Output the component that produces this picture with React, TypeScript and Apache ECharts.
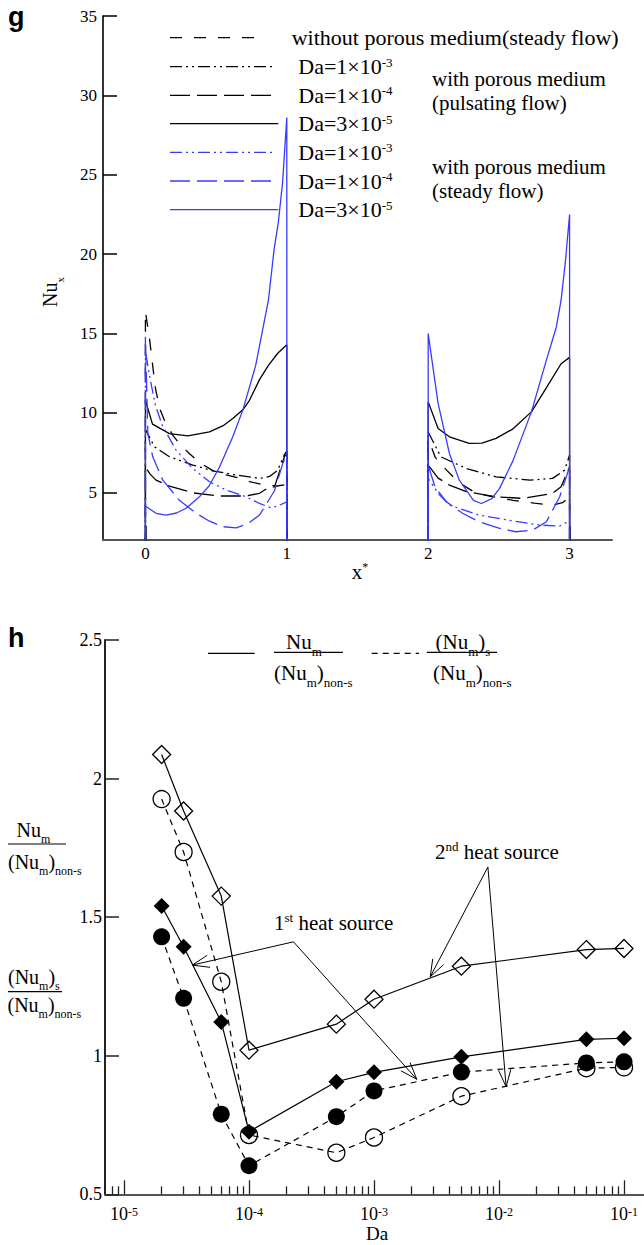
import React, { useEffect, useRef } from "react";
import * as echarts from "echarts";

const SERIF = "'Liberation Serif', 'Times New Roman', serif";
const SANS = "'Liberation Sans', Arial, sans-serif";
const BLUE = "#3a3aff";
const BLACK = "#000000";

// ---------------- panel g ----------------
const G_X_TICKS = [0, 1, 2, 3];
const G_Y_TICKS = [5, 10, 15, 20, 25, 30, 35];
const G_X_MIN = -0.3;
const G_X_MAX = 3.3;
const G_Y_MIN = 2;
const G_Y_MAX = 35;
const WALL = 0; // curves drop to zero outside the heat sources

const NOPOR_1 = [[0, 16.4], [0.03, 14.6], [0.07, 11.6], [0.1, 10.3], [0.134, 9.55], [0.193, 8.6], [0.24, 8.08], [0.31, 7.45], [0.38, 6.9], [0.48, 6.35], [0.57, 6.1], [0.665, 5.9], [0.736, 5.67], [0.85, 5.45], [0.93, 5.4], [1.0, 5.5]];
const NOPOR_2 = [[2, 8.4], [2.05, 7.2], [2.13, 6.4], [2.22, 5.6], [2.34, 4.94], [2.47, 4.7], [2.6, 4.5], [2.75, 4.32], [2.88, 4.2], [2.95, 4.35], [3.0, 4.72]];

const PUL3_1 = [[0, 8.96], [0.064, 7.87], [0.17, 7.24], [0.335, 6.72], [0.476, 6.36], [0.642, 6.09], [0.807, 5.88], [0.878, 6.0], [0.936, 6.4], [0.984, 7.4], [1.0, 7.6]];
const PUL3_2 = [[2, 8.8], [2.09, 7.24], [2.27, 6.5], [2.48, 5.98], [2.72, 5.77], [2.88, 5.88], [2.965, 6.4], [3.0, 7.35]];

const PUL4_1 = [[0, 6.6], [0.033, 6.15], [0.075, 5.77], [0.17, 5.4], [0.335, 4.97], [0.524, 4.77], [0.713, 4.77], [0.807, 4.94], [0.87, 5.3], [0.913, 5.34], [0.984, 7.27], [1.0, 7.4]];
const PUL4_2 = [[2, 6.72], [2.07, 5.9], [2.15, 5.46], [2.27, 5.04], [2.48, 4.72], [2.67, 4.62], [2.88, 4.94], [2.94, 5.35], [3.0, 6.6]];

const PUL35_1 = [[0, 10.8], [0.05, 9.3], [0.17, 8.7], [0.3, 8.56], [0.453, 8.81], [0.55, 9.2], [0.618, 9.65], [0.689, 10.2], [0.736, 10.8], [0.807, 12.1], [0.87, 13.0], [0.936, 13.76], [1.0, 14.3]];
const PUL35_2 = [[2, 10.7], [2.07, 9.02], [2.15, 8.5], [2.29, 8.08], [2.38, 8.1], [2.48, 8.4], [2.6, 9.0], [2.73, 10.07], [2.83, 11.5], [2.94, 13.1], [3.0, 13.5]];

const STE3_1 = [[0, 13.9], [0.03, 12.3], [0.07, 10.5], [0.12, 9.2], [0.217, 7.66], [0.335, 6.5], [0.453, 5.67], [0.571, 5.14], [0.713, 4.72], [0.807, 4.3], [0.89, 4.02], [0.95, 4.2], [1.0, 4.4]];
const STE3_2 = [[2, 5.88], [2.07, 4.94], [2.15, 4.2], [2.36, 3.57], [2.6, 3.2], [2.79, 2.94], [2.93, 2.88], [3.0, 3.2]];

const STE4_1 = [[0, 14.8], [0.017, 8.7], [0.052, 7.24], [0.123, 5.77], [0.24, 4.5], [0.36, 3.68], [0.45, 3.2], [0.547, 2.84], [0.642, 2.77], [0.72, 3.0], [0.807, 3.57], [0.913, 5.1], [0.97, 6.78], [1.0, 7.4]];
const STE4_2 = [[2, 6.7], [2.05, 5.3], [2.13, 4.4], [2.24, 3.7], [2.36, 3.15], [2.5, 2.75], [2.62, 2.52], [2.74, 2.63], [2.836, 3.15], [2.93, 4.72], [3.0, 6.6]];

const STE35_1 = [[0, 4.14], [0.075, 3.68], [0.146, 3.57], [0.22, 3.7], [0.288, 4.0], [0.382, 4.72], [0.45, 5.4], [0.524, 6.6], [0.618, 8.5], [0.689, 10.18], [0.78, 13.0], [0.87, 17.1], [0.91, 20.3], [0.94, 22.0], [0.97, 24.5], [1.0, 28.6]];
const STE35_2 = [[2, 15.0], [2.07, 10.6], [2.15, 7.45], [2.22, 5.77], [2.32, 4.5], [2.376, 4.3], [2.45, 4.6], [2.505, 5.25], [2.6, 7.0], [2.73, 10.07], [2.835, 13.3], [2.906, 15.4], [2.94, 17.1], [2.97, 19.5], [3.0, 22.5]];

const DASH_SHORT = [12, 12];
const DASH_DDOT = [12, 4, 2, 4, 2, 4];
const DASH_LONG = [20, 7];

const G_CURVES = [
  { label: "{a|without porous medium(steady flow)}", color: BLACK, dash: DASH_SHORT, segs: [NOPOR_1, NOPOR_2] },
  { label: "{a|Da=1×10}{s|-3}", color: BLACK, dash: DASH_DDOT, segs: [PUL3_1, PUL3_2] },
  { label: "{a|Da=1×10}{s|-4}", color: BLACK, dash: DASH_LONG, segs: [PUL4_1, PUL4_2] },
  { label: "{a|Da=3×10}{s|-5}", color: BLACK, dash: null, segs: [PUL35_1, PUL35_2] },
  { label: "{a|Da=1×10}{s|-3}", color: BLUE, dash: DASH_DDOT, segs: [STE3_1, STE3_2] },
  { label: "{a|Da=1×10}{s|-4}", color: BLUE, dash: DASH_LONG, segs: [STE4_1, STE4_2] },
  { label: "{a|Da=3×10}{s|-5}", color: BLUE, dash: null, segs: [STE35_1, STE35_2] },
];

// legend layout (pixels)
const LEG_ROW_Y = [37.7, 66.7, 95.3, 123.7, 152.3, 181, 209.7];
const LEG_LINE_X0 = 170;
const LEG_LINE_X1 = [265, 275, 271.7, 278.3, 275, 271.7, 278.3];
const LEG_TEXT_X = [291.7, 298.3, 298.3, 298.3, 298.3, 298.3, 298.3];
const GROUP_LABELS = [
  { text: "with porous medium", x: 432, y: 78.5 },
  { text: "(pulsating flow)", x: 432, y: 102.5 },
  { text: "with porous medium", x: 432, y: 167 },
  { text: "(steady flow)", x: 432, y: 191 },
];

// ---------------- panel h ----------------
const H_DA = [2e-5, 3e-5, 6e-5, 1e-4, 5e-4, 1e-3, 5e-3, 5e-2, 1e-1];
const H_OPEN_DIAMOND = [2.087, 1.883, 1.576, 1.02, 1.114, 1.204, 1.323, 1.383, 1.387];
const H_FILLED_DIAMOND = [1.54, 1.393, 1.122, 0.726, 0.906, 0.94, 0.996, 1.059, 1.063];
const H_OPEN_CIRCLE = [1.926, 1.735, 1.267, 0.714, 0.65, 0.705, 0.854, 0.955, 0.958];
const H_FILLED_CIRCLE = [1.429, 1.207, 0.789, 0.603, 0.78, 0.873, 0.941, 0.974, 0.978];
const H_X_MIN = 7.05e-6;
const H_X_MAX = 0.1445;
const H_MAJOR = [1e-5, 1e-4, 1e-3, 1e-2, 1e-1];
const H_DECADES = [1e-6, 1e-5, 1e-4, 1e-3, 1e-2, 1e-1];
const H_MINOR_MULT = [2, 3, 4, 5, 6, 7, 8, 9];
const H_MINOR = H_DECADES.flatMap((d) => H_MINOR_MULT.map((m) => m * d)).filter((v) => v >= H_X_MIN && v <= H_X_MAX);

// annotation arrows in data coordinates (Da, ratio)
const ARROWS = [
  { apex: [2.27e-4, 1.411], tips: [[3.51e-5, 1.327], [2.2e-3, 0.915]] },
  { apex: [8.15e-3, 1.681], tips: [[2.82e-3, 1.285], [1.14e-2, 0.888]] },
];

const supRich = (size: number, sup: number, lh: number) => ({
  a: { fontSize: size, fontFamily: SERIF, lineHeight: lh, fill: BLACK },
  s: { fontSize: sup, fontFamily: SERIF, lineHeight: sup, verticalAlign: "top", fill: BLACK },
});
const subRich = (size: number, sub: number, lh: number) => ({
  a: { fontSize: size, fontFamily: SERIF, lineHeight: lh, fill: BLACK },
  b: { fontSize: sub, fontFamily: SERIF, lineHeight: sub, verticalAlign: "bottom", fill: BLACK },
});

function txt(x: number, y: number, text: string, rich: any, align = "left", extra: any = {}) {
  return {
    type: "text",
    x,
    y,
    silent: true,
    z: 100,
    ...extra,
    style: {
      text,
      x: 0,
      y: 0,
      rich,
      fill: BLACK,
      fontFamily: SERIF,
      fontSize: 20,
      align,
      verticalAlign: "middle",
      textAlign: align,
      textVerticalAlign: "middle",
    },
  };
}

function seg(x1: number, y1: number, x2: number, y2: number, dash: any = null, width = 1.3, color = BLACK) {
  return {
    type: "line",
    silent: true,
    z: 100,
    shape: { x1, y1, x2, y2 },
    style: { stroke: color, lineWidth: width, lineDash: dash },
  };
}

function buildOption() {
  const gSeries: any[] = [];
  G_CURVES.forEach((c) => {
    c.segs.forEach((s) => {
      const data = [[s[0][0], WALL], ...s, [s[s.length - 1][0], WALL]];
      gSeries.push({
        type: "line",
        xAxisIndex: 0,
        yAxisIndex: 0,
        data,
        symbol: "none",
        showSymbol: false,
        silent: true,
        clip: true,
        lineStyle: { color: c.color, width: 1.3, type: c.dash ? c.dash : "solid" },
        emphasis: { disabled: true },
      });
    });
  });

  const hLine = (vals: number[], symbol: string, size: any, filled: boolean, dashed: boolean) => ({
    type: "line",
    xAxisIndex: 1,
    yAxisIndex: 1,
    data: H_DA.map((d, i) => [d, vals[i]]),
    symbol,
    symbolSize: size,
    showSymbol: true,
    silent: true,
    lineStyle: { color: BLACK, width: 1.2, type: dashed ? [6, 5] : "solid" },
    itemStyle: {
      color: filled ? BLACK : "rgba(255,255,255,0)",
      borderColor: BLACK,
      borderWidth: filled ? 0 : 1.3,
    },
    emphasis: { disabled: true },
  });

  return {
    animation: false,
    backgroundColor: "#ffffff",
    grid: [
      { left: 103, top: 16, width: 509, height: 524 },
      { left: 105, top: 640, width: 539, height: 554.3 },
    ],
    xAxis: [
      {
        type: "value",
        gridIndex: 0,
        min: G_X_MIN,
        max: G_X_MAX,
        position: "bottom",
        axisLine: { show: true, onZero: false, lineStyle: { color: "#555", width: 2 } },
        axisTick: { show: true, inside: true, length: 14, customValues: G_X_TICKS, lineStyle: { color: "#111", width: 1.5 } },
        axisLabel: { show: true, customValues: G_X_TICKS, fontSize: 17, fontFamily: SERIF, color: BLACK, margin: 5 },
        splitLine: { show: false },
      },
      {
        type: "log",
        logBase: 10,
        gridIndex: 1,
        min: H_X_MIN,
        max: H_X_MAX,
        position: "bottom",
        axisLine: { show: true, onZero: false, lineStyle: { color: "#555", width: 2 } },
        axisTick: { show: true, inside: true, length: 14, customValues: H_MAJOR, lineStyle: { color: "#222", width: 1.3 } },
        axisLabel: {
          show: true,
          customValues: H_MAJOR,
          margin: 12,
          formatter: (v: number) => `{b|10}{s|${Math.round(Math.log10(v))}}`,
          rich: {
            b: { fontSize: 18, fontFamily: SERIF, color: BLACK, lineHeight: 16 },
            s: { fontSize: 12, fontFamily: SERIF, color: BLACK, lineHeight: 6, verticalAlign: "top" },
          },
        },
        splitLine: { show: false },
        minorTick: { show: false },
      },
      {
        type: "log",
        logBase: 10,
        gridIndex: 1,
        min: H_X_MIN,
        max: H_X_MAX,
        position: "bottom",
        offset: 0,
        axisLine: { show: false, onZero: false },
        axisTick: { show: true, inside: true, length: 8, customValues: H_MINOR, lineStyle: { color: "#222", width: 1.3 } },
        axisLabel: { show: false },
        splitLine: { show: false },
      },
    ],
    yAxis: [
      {
        type: "value",
        gridIndex: 0,
        min: G_Y_MIN,
        max: G_Y_MAX,
        axisLine: { show: true, onZero: false, lineStyle: { color: BLACK, width: 1.6 } },
        axisTick: { show: true, inside: true, length: 14, customValues: G_Y_TICKS, lineStyle: { color: BLACK, width: 1.5 } },
        axisLabel: { show: true, customValues: G_Y_TICKS, fontSize: 17, fontFamily: SERIF, color: BLACK, margin: 6 },
        splitLine: { show: false },
      },
      {
        type: "value",
        gridIndex: 1,
        min: 0.5,
        max: 2.5,
        interval: 0.5,
        axisLine: { show: true, onZero: false, lineStyle: { color: "#222", width: 2 } },
        axisTick: { show: true, inside: true, length: 14, lineStyle: { color: "#222", width: 1.5 } },
        axisLabel: { show: true, fontSize: 18, fontFamily: SERIF, color: BLACK, margin: 3, formatter: (v: number) => String(v) },
        splitLine: { show: false },
      },
    ],
    series: [
      ...gSeries,
      hLine(H_OPEN_CIRCLE, "circle", 17, false, true),
      hLine(H_FILLED_CIRCLE, "circle", 17, true, true),
      hLine(H_OPEN_DIAMOND, "diamond", 18, false, false),
      hLine(H_FILLED_DIAMOND, "diamond", 16, true, false),
    ],
  };
}

function arrowElems(from: number[], tip: number[]) {
  const dx = tip[0] - from[0];
  const dy = tip[1] - from[1];
  const len = Math.hypot(dx, dy) || 1;
  const ux = dx / len;
  const uy = dy / len;
  const L = 18;
  const th = (20 * Math.PI) / 180;
  const rot = (a: number) => [ux * Math.cos(a) - uy * Math.sin(a), ux * Math.sin(a) + uy * Math.cos(a)];
  const r1 = rot(th);
  const r2 = rot(-th);
  return [
    seg(from[0], from[1], tip[0], tip[1], null, 1),
    {
      type: "polyline",
      silent: true,
      z: 100,
      shape: { points: [[tip[0] - L * r1[0], tip[1] - L * r1[1]], tip, [tip[0] - L * r2[0], tip[1] - L * r2[1]]] },
      style: { stroke: BLACK, lineWidth: 1, fill: null },
    },
  ];
}

function buildGraphics(chart: any) {
  const els: any[] = [];
  // panel letters
  els.push({ type: "text", x: 8, y: 16.5, silent: true, style: { text: "g", fontSize: 27, fontWeight: "bold", fontFamily: SANS, fill: BLACK, align: "left", verticalAlign: "middle", textAlign: "left", textVerticalAlign: "middle" } });
  els.push({ type: "text", x: 8, y: 637.5, silent: true, style: { text: "h", fontSize: 27, fontWeight: "bold", fontFamily: SANS, fill: BLACK, align: "left", verticalAlign: "middle", textAlign: "left", textVerticalAlign: "middle" } });

  // panel g legend
  G_CURVES.forEach((c, i) => {
    els.push(seg(LEG_LINE_X0, LEG_ROW_Y[i], LEG_LINE_X1[i], LEG_ROW_Y[i], c.dash, 1.3, c.color));
    els.push(txt(LEG_TEXT_X[i], LEG_ROW_Y[i], c.label, supRich(22, 13, 22)));
  });
  GROUP_LABELS.forEach((g) => els.push(txt(g.x, g.y, `{a|${g.text}}`, supRich(21, 13, 19))));

  // panel g axis names
  els.push(txt(50, 292, "{a|Nu}{b|x}", subRich(20, 11, 30), "center", { rotation: Math.PI / 2 }));
  els.push(txt(360, 572, "{a|x}{s|*}", supRich(21, 12, 22), "center"));

  // panel h legend
  els.push(seg(208, 653.3, 254.6, 653.3, null, 1.3));
  els.push(txt(304, 641.7, "{a|Nu}{b|m}", subRich(21, 13, 32), "center"));
  els.push(seg(274, 652.3, 343, 652.3, null, 1.2));
  els.push(txt(274, 673.3, "{a|(Nu}{b|m}{a|)}{b|non-s}", subRich(21, 13, 32)));
  els.push(seg(371.7, 653.3, 419, 653.3, [6, 5], 1.3));
  els.push(txt(463, 641.7, "{a|(Nu}{b|m}{a|)}{b|s}", subRich(21, 13, 32), "center"));
  els.push(seg(427, 652.3, 497, 652.3, null, 1.2));
  els.push(txt(433, 673.3, "{a|(Nu}{b|m}{a|)}{b|non-s}", subRich(21, 13, 32)));

  // panel h y-axis names
  els.push(txt(33.5, 830, "{a|Nu}{b|m}", subRich(20, 12, 30), "center"));
  els.push(seg(8, 844, 66, 844, null, 1.2));
  els.push(txt(8, 861.7, "{a|(Nu}{b|m}{a|)}{b|non-s}", subRich(20, 12, 30)));
  els.push(txt(8, 976.7, "{a|(Nu}{b|m}{a|)}{b|s}", subRich(20, 12, 30)));
  els.push(seg(8, 991.7, 62, 991.7, null, 1.2));
  els.push(txt(7.5, 1005, "{a|(Nu}{b|m}{a|)}{b|non-s}", subRich(20, 12, 30)));

  // Da axis name
  els.push(txt(377, 1233, "{a|Da}", supRich(19, 12, 16), "center"));

  // heat source labels
  els.push(txt(274, 923.3, "{a|1}{s|st}{a| heat source}", supRich(21, 13, 24)));
  els.push(txt(435, 852.3, "{a|2}{s|nd}{a| heat source}", supRich(21, 13, 24)));

  // arrows
  ARROWS.forEach((a) => {
    const p0 = chart.convertToPixel({ xAxisIndex: 1, yAxisIndex: 1 }, a.apex);
    a.tips.forEach((t) => {
      const p1 = chart.convertToPixel({ xAxisIndex: 1, yAxisIndex: 1 }, t);
      if (p0 && p1) els.push(...arrowElems(p0, p1));
    });
  });
  return els;
}

export default function App() {
  const ref = useRef<HTMLDivElement>(null);
  useEffect(() => {
    if (!ref.current) return;
    const chart = echarts.init(ref.current, null, { renderer: "svg" });
    chart.setOption(buildOption() as any);
    chart.setOption({ graphic: buildGraphics(chart) } as any);
    return () => chart.dispose();
  }, []);
  return (
    <div
      ref={ref}
      style={{ position: "absolute", left: 0, top: 0, width: 644, height: 1245, background: "#ffffff" }}
    />
  );
}
